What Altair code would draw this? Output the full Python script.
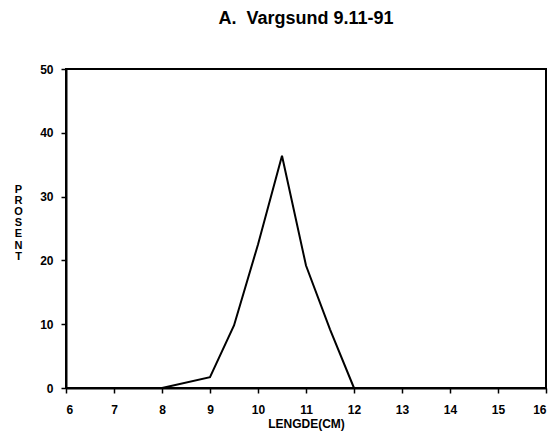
import altair as alt
import pandas as pd

lengde = [8, 9, 9.5, 10, 10.5, 11, 11.5, 12]
prosent = [0, 1.7, 9.8, 22.5, 36.4, 19.2, 9.2, 0]
x_ticks = [6, 7, 8, 9, 10, 11, 12, 13, 14, 15, 16]
y_ticks = [0, 10, 20, 30, 40, 50]

df = pd.DataFrame({"lengde": lengde, "prosent": prosent})

FONT = "Liberation Sans"

chart = alt.Chart(df).mark_line(color="black", strokeWidth=2).encode(
    x=alt.X("lengde:Q", scale=alt.Scale(domain=[6, 16], nice=False, zero=False),
            axis=alt.Axis(values=x_ticks, title="LENGDE(CM)", grid=False,
                          domain=True, domainColor="black", domainWidth=2,
                          tickColor="black", tickSize=5, tickWidth=1.5,
                          labelFont=FONT, labelFontWeight="bold", labelFontSize=12,
                          labelColor="black", labelPadding=11,
                          titleFont=FONT, titleFontWeight="bold", titleFontSize=12,
                          titleColor="black", titlePadding=3)),
    y=alt.Y("prosent:Q", scale=alt.Scale(domain=[0, 50], nice=False),
            axis=alt.Axis(values=y_ticks, title=["P", "R", "O", "S", "E", "N", "T"],
                          grid=False, domain=True, domainColor="black", domainWidth=2,
                          tickColor="black", tickSize=5, tickWidth=1.5,
                          labelFont=FONT, labelFontWeight="bold", labelFontSize=12,
                          labelColor="black", labelPadding=8,
                          titleFont=FONT, titleFontWeight="bold", titleFontSize=11,
                          titleColor="black", titleAngle=0, titleX=-48, titleY=114,
                          titleBaseline="top", titleAlign="center", titleLineHeight=11.2)),
).properties(
    width=480, height=319,
    title=alt.TitleParams("A.\u00a0\u00a0Vargsund 9.11-91", font=FONT, fontWeight="bold",
                          fontSize=18, color="black", anchor="middle", offset=35),
    autosize=alt.AutoSizeParams(type="none"),
    padding={"left": 58, "top": 61, "right": 3, "bottom": 52},
).configure_view(stroke="black", strokeWidth=2)

chart.save("out.html", embed_options={"renderer": "svg", "actions": False})
